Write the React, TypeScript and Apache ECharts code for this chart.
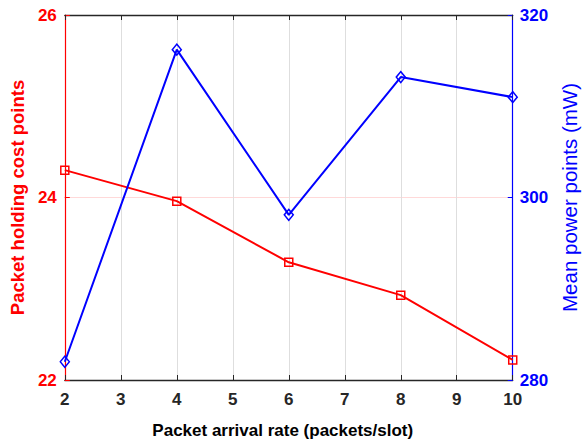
import React, { useEffect, useRef } from "react";
import * as echarts from "echarts";

const arrivalRates = [2, 4, 6, 8, 10];
const holdingCost = [24.3, 23.96, 23.29, 22.93, 22.22];
const meanPower = [282.0, 316.2, 298.1, 313.2, 311.0];

const xTitle = "Packet arrival rate (packets/slot)";
const leftTitle = "Packet holding cost points";
const rightTitle = "Mean power points (mW)";

const FONT = "'Liberation Sans', Arial, sans-serif";
const RED = "#ff0000";
const BLUE = "#0000ff";

export default function App() {
  const ref = useRef<HTMLDivElement>(null);
  useEffect(() => {
    if (!ref.current) return;
    const chart = echarts.init(ref.current, null, { renderer: "svg", width: 588, height: 444 });
    chart.setOption({
      animation: false,
      backgroundColor: "#ffffff",
      grid: { left: 61.5, right: 62, top: 15, bottom: 63, containLabel: false },
      xAxis: [
        {
          type: "value",
          min: 2,
          max: 10,
          interval: 1,
          position: "bottom",
          name: xTitle,
          nameLocation: "middle",
          nameGap: 42,
          nameTextStyle: {
            fontFamily: FONT,
            fontWeight: "bold",
            fontSize: 17,
            color: "#000",
            padding: [0, 12, 0, 0],
          },
          axisLine: { show: true, lineStyle: { color: "#262626", width: 1.3 } },
          axisTick: { show: true, inside: true, length: 5, lineStyle: { color: "#262626" } },
          axisLabel: { fontFamily: FONT, fontWeight: "bold", fontSize: 17, color: "#262626", margin: 11 },
          splitLine: { show: true, lineStyle: { color: "#dedede", width: 1 } },
        },
        {
          type: "value",
          min: 2,
          max: 10,
          interval: 1,
          position: "top",
          axisLine: { show: true, lineStyle: { color: "#262626", width: 1.3 } },
          axisTick: { show: true, inside: true, length: 5, lineStyle: { color: "#262626" } },
          axisLabel: { show: false },
          splitLine: { show: false },
        },
      ],
      yAxis: [
        {
          type: "value",
          min: 22,
          max: 26,
          interval: 2,
          position: "left",
          name: leftTitle,
          nameLocation: "middle",
          nameGap: 32,
          nameTextStyle: { fontFamily: FONT, fontWeight: "bold", fontSize: 18.5, color: RED },
          axisLine: { show: true, lineStyle: { color: RED, width: 1.2 } },
          axisTick: { show: true, inside: true, length: 5, lineStyle: { color: RED } },
          axisLabel: { fontFamily: FONT, fontWeight: "bold", fontSize: 17, color: RED, margin: 8 },
          splitLine: { show: true, lineStyle: { color: "rgba(255,0,0,0.15)", width: 1 } },
        },
        {
          type: "value",
          min: 280,
          max: 320,
          interval: 20,
          position: "right",
          name: rightTitle,
          nameLocation: "middle",
          nameGap: 43,
          nameTextStyle: { fontFamily: FONT, fontSize: 20.5, color: BLUE },
          axisLine: { show: true, lineStyle: { color: BLUE, width: 1.2 } },
          axisTick: { show: true, inside: true, length: 5, lineStyle: { color: BLUE } },
          axisLabel: { fontFamily: FONT, fontWeight: "bold", fontSize: 17, color: BLUE, margin: 7 },
          splitLine: { show: false },
        },
      ],
      series: [
        {
          type: "line",
          xAxisIndex: 0,
          yAxisIndex: 0,
          data: arrivalRates.map((x, i) => [x, holdingCost[i]]),
          symbol: "rect",
          symbolSize: 8,
          lineStyle: { color: RED, width: 2 },
          itemStyle: { color: "transparent", borderColor: RED, borderWidth: 1.5 },
          z: 3,
        },
        {
          type: "line",
          xAxisIndex: 0,
          yAxisIndex: 1,
          data: arrivalRates.map((x, i) => [x, meanPower[i]]),
          symbol: "diamond",
          symbolSize: [9, 11],
          lineStyle: { color: BLUE, width: 2 },
          itemStyle: { color: "transparent", borderColor: BLUE, borderWidth: 1.5 },
          z: 4,
        },
      ],
    });
    return () => chart.dispose();
  }, []);
  return <div ref={ref} style={{ width: 588, height: 444, position: "absolute", left: 0, top: 0 }} />;
}
